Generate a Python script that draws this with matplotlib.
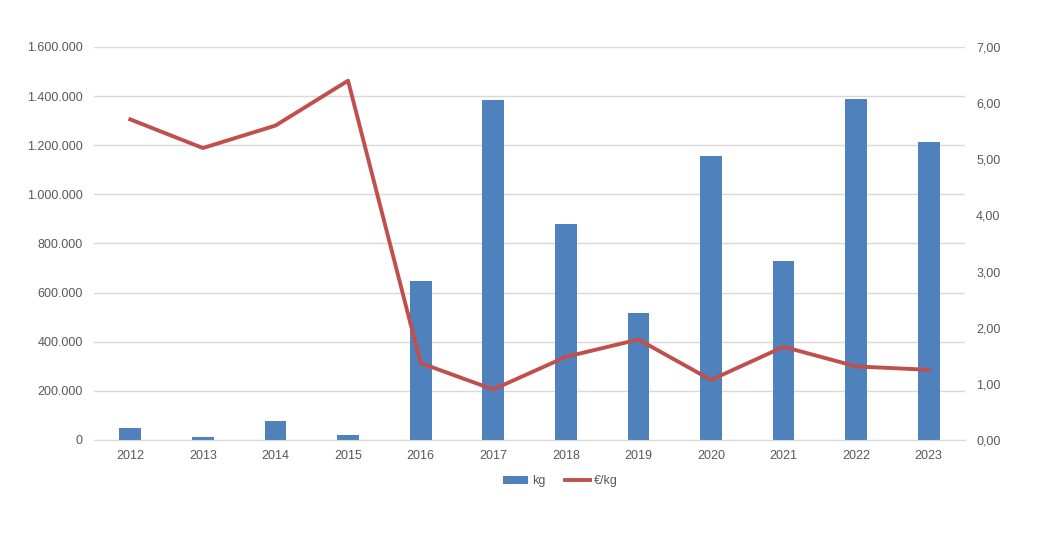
import numpy as np
import matplotlib
matplotlib.use("Agg")
import matplotlib.pyplot as plt
from matplotlib.ticker import FuncFormatter

years = ["2012", "2013", "2014", "2015", "2016", "2017",
         "2018", "2019", "2020", "2021", "2022", "2023"]
kg = [49000, 12000, 77000, 20000, 647000, 1384000,
      879000, 517000, 1156000, 729000, 1388000, 1213000]
eur_kg = [5.71, 5.20, 5.60, 6.40, 1.37, 0.90,
          1.48, 1.79, 1.07, 1.66, 1.31, 1.25]

plt.rcParams['font.family'] = ['Liberation Sans', 'DejaVu Sans']
txt = '#595959'
grid = '#D9D9D9'

fig = plt.figure(figsize=(10.62, 5.45), dpi=100)
ax = fig.add_axes([0.0885, 0.1927, 0.8202, 0.7211])
ax2 = ax.twinx()

x = np.arange(len(years))
bars = ax.bar(x, kg, width=0.3, color='#4F81BD', zorder=2, label='kg')
line, = ax2.plot(x, eur_kg, color='#C0504D', lw=2.8, zorder=3, label='€/kg')

ax.set_xlim(-0.5, len(years) - 0.5)
ax.set_ylim(0, 1600000)
ax.set_yticks(np.arange(0, 1600001, 200000))
ax.yaxis.set_major_formatter(FuncFormatter(lambda v, p: f"{int(v):,}".replace(",", ".")))
ax2.set_ylim(0, 7)
ax2.set_yticks(np.arange(0, 7.01, 1))
ax2.yaxis.set_major_formatter(FuncFormatter(lambda v, p: f"{v:.2f}".replace(".", ",")))

ax.set_xticks(x)
ax.set_xticklabels(years)
ax.grid(axis='y', color=grid, lw=1, zorder=0)
ax.set_axisbelow(True)

for a in (ax, ax2):
    for s in a.spines.values():
        s.set_visible(False)
    a.tick_params(length=0, labelsize=9, colors=txt)
ax.spines['bottom'].set_visible(True)
ax.spines['bottom'].set_color(grid)
ax.tick_params(axis='y', pad=8)
ax.tick_params(axis='x', pad=7)
ax2.tick_params(axis='y', pad=8)

ax2.set_zorder(ax.get_zorder() + 1)
ax2.patch.set_visible(False)

fig.legend([bars, line], ['kg', '€/kg'], loc='center', bbox_to_anchor=(0.528, 0.117),
           ncol=2, frameon=False, fontsize=9, labelcolor=txt,
           handlelength=2.0, handleheight=0.6, columnspacing=1.6, handletextpad=0.3)

fig.savefig('out.png', dpi=100)
